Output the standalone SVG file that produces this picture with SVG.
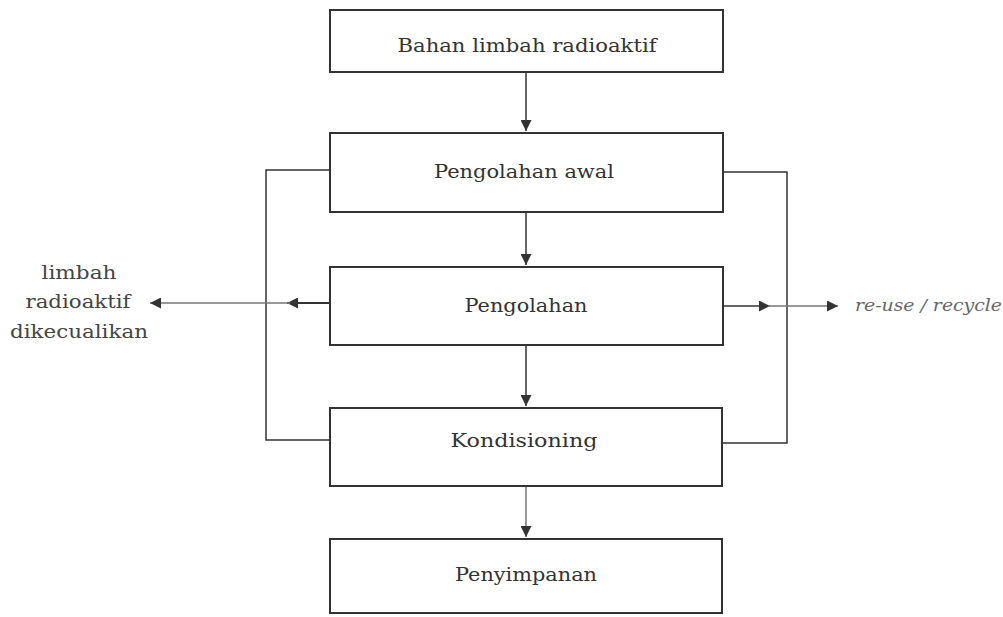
<svg xmlns="http://www.w3.org/2000/svg" width="1003" height="617" viewBox="0 0 1003 617">
<style>
.box{fill:#fff;stroke:#333;stroke-width:2}
.lbl{font-family:"DejaVu Serif","Liberation Serif",serif;font-size:19px;fill:#333;text-anchor:middle}
.side{font-family:"DejaVu Serif","Liberation Serif",serif;font-size:19px;fill:#444;text-anchor:middle}
.it{font-family:"DejaVu Serif","Liberation Serif",serif;font-size:17px;font-style:italic;fill:#666}
.ln{fill:none;stroke:#333;stroke-width:1.5}
.lg{fill:none;stroke:#777;stroke-width:1.5}
</style>
<defs>
<marker id="ah" viewBox="0 0 10 10" refX="10" refY="5" markerWidth="11" markerHeight="11" markerUnits="userSpaceOnUse" orient="auto">
<path d="M0,0 L10,5 L0,10 z" fill="#333"/>
</marker>
<marker id="ahw" viewBox="0 0 10 10" refX="10" refY="5" markerWidth="15" markerHeight="11" markerUnits="userSpaceOnUse" orient="auto">
<path d="M0,0 L10,5 L0,10 z" fill="#333"/>
</marker>
</defs>
<g id="connectors">
<line class="ln" x1="526" y1="72" x2="526" y2="131" marker-end="url(#ah)"/>
<line class="ln" x1="526" y1="212" x2="526" y2="265" marker-end="url(#ah)"/>
<line class="ln" x1="526" y1="345" x2="526" y2="406" marker-end="url(#ah)"/>
<line class="lg" x1="526" y1="486" x2="526" y2="537" marker-end="url(#ah)"/>
<polyline class="ln" points="330,170 266,170 266,440 330,440"/>
<polyline class="ln" points="723,172 787,172 787,443 722,443"/>
<line stroke="#333" stroke-width="2" x1="330" y1="303" x2="287" y2="303" marker-end="url(#ahw)"/>
<line class="lg" x1="290" y1="303" x2="150" y2="303" marker-end="url(#ahw)"/>
<line class="ln" x1="723" y1="306" x2="770" y2="306" marker-end="url(#ahw)"/>
<line class="lg" x1="768" y1="306" x2="838" y2="306" marker-end="url(#ahw)"/>
</g>
<g id="node-bahan">
<rect class="box" x="330" y="10" width="393" height="62"/>
<text class="lbl" x="527" y="52" textLength="259" lengthAdjust="spacingAndGlyphs">Bahan limbah radioaktif</text>
</g>
<g id="node-pengolahan-awal">
<rect class="box" x="330" y="133" width="393" height="79"/>
<text class="lbl" x="524" y="178" textLength="180" lengthAdjust="spacingAndGlyphs">Pengolahan awal</text>
</g>
<g id="node-pengolahan">
<rect class="box" x="330" y="267" width="393" height="78"/>
<text class="lbl" x="526" y="312" textLength="123" lengthAdjust="spacingAndGlyphs">Pengolahan</text>
</g>
<g id="node-kondisioning">
<rect class="box" x="330" y="408" width="392" height="78"/>
<text class="lbl" x="524" y="447" textLength="147" lengthAdjust="spacingAndGlyphs">Kondisioning</text>
</g>
<g id="node-penyimpanan">
<rect class="box" x="330" y="539" width="392" height="74"/>
<text class="lbl" x="526" y="581" textLength="142" lengthAdjust="spacingAndGlyphs">Penyimpanan</text>
</g>
<g id="node-limbah-dikecualikan">
<text class="side" x="79" y="279" textLength="75" lengthAdjust="spacingAndGlyphs">limbah</text>
<text class="side" x="78" y="308" textLength="105" lengthAdjust="spacingAndGlyphs">radioaktif</text>
<text class="side" x="79" y="338" textLength="138" lengthAdjust="spacingAndGlyphs">dikecualikan</text>
</g>
<g id="node-reuse">
<text class="it" x="855" y="311" textLength="147" lengthAdjust="spacingAndGlyphs">re-use / recycle</text>
</g>
</svg>
